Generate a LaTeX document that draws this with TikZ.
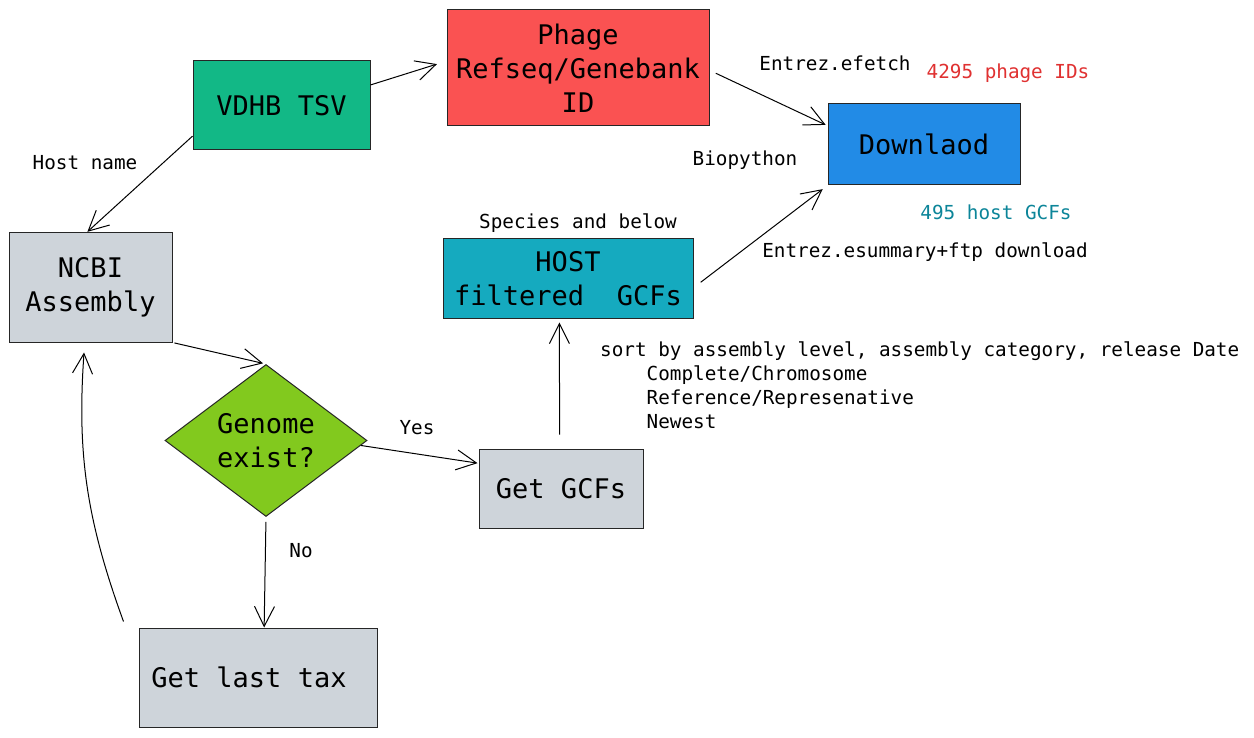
\documentclass[tikz,border=0pt]{standalone}
\usepackage{fontspec}
\setmainfont{DejaVu Sans Mono}
\usepackage{tikz}
\usetikzlibrary{arrows.meta,shapes.geometric}

\definecolor{tsvgreen}{HTML}{12B886}
\definecolor{phagered}{HTML}{FA5252}
\definecolor{dlblue}{HTML}{228BE6}
\definecolor{hostcyan}{HTML}{15AABF}
\definecolor{askgreen}{HTML}{82C91E}
\definecolor{stepgray}{HTML}{CED4DA}
\definecolor{notered}{HTML}{E03131}
\definecolor{noteteal}{HTML}{0C8599}

\tikzset{
  flowbox/.style={draw=black!85, line width=1pt, inner sep=0pt, align=center,
    font=\fontsize{27}{34}\selectfont},
  note/.style={inner sep=0pt, font=\fontsize{19.3}{24}\selectfont},
  flowarrow/.style={line width=1pt, -{Straight Barb[length=20pt,width=20pt]}},
}

\begin{document}
\begin{tikzpicture}[x=1pt,y=-1pt]
%set diagram left start at 0, and has height of 738
\path[fill=white,use as bounding box] (0,0) rectangle (1254,738);

%Shape: Rectangle [id:vdhb]
\node (vdhb) at (281.5,105.5) [flowbox, fill=tsvgreen, minimum width=177pt, minimum height=89pt] {VDHB TSV};
%Shape: Rectangle [id:phage]
\node (phage) at (578,68) [flowbox, fill=phagered, minimum width=262pt, minimum height=116pt] {Phage\\Refseq/Genebank\\ID};
%Shape: Rectangle [id:dl]
\node (dl) at (924,144.5) [flowbox, fill=dlblue, minimum width=192pt, minimum height=81pt] {Downlaod};
%Shape: Rectangle [id:ncbi]
\node (ncbi) at (90.5,287.5) [flowbox, fill=stepgray, minimum width=163pt, minimum height=109pt] {NCBI\\Assembly};
%Shape: Rectangle [id:host]
\node (host) at (568,279) [flowbox, fill=hostcyan, minimum width=250pt, minimum height=80pt] {HOST\\filtered\ \ GCFs};
%Shape: Diamond [id:genome]
\node (genome) at (266,440.5) [flowbox, diamond, fill=askgreen, minimum width=202pt, minimum height=149pt] {Genome\\exist?\hspace*{0pt}};
%Shape: Rectangle [id:getgcf]
\node (getgcf) at (561,488.5) [flowbox, fill=stepgray, minimum width=164pt, minimum height=79pt] {Get GCFs};
%Shape: Rectangle [id:lasttax]
\node (lasttax) at (258,677.5) [flowbox, fill=stepgray, minimum width=238pt, minimum height=99pt] {Get last tax\hspace*{18pt}};

%Straight Lines
\draw[flowarrow, shorten >=10pt] (vdhb.13.7) -- (phage.177.4);
\draw[flowarrow, shorten <=7pt, shorten >=2pt] (phage.-1) -- (dl.169.7);
\draw[flowarrow, shorten <=9pt, shorten >=6pt] (host.-4.1) -- (dl.south west);
\draw[flowarrow, shorten >=1pt] (vdhb.199.6) -- (ncbi.94.7);
\draw[flowarrow, shorten <=2pt, shorten >=3pt] (ncbi.south east) -- (genome.north);
\draw[flowarrow, shorten >=1pt] (genome.-3.6) -- (getgcf.163.4);
\draw[flowarrow, shorten <=5pt] (genome.south) -- (lasttax.83.1);
\draw[flowarrow, shorten <=14pt, shorten >=3pt] (getgcf.92.9) -- (host.258.7);
%Curve Lines
\draw[flowarrow, shorten >=10pt] ([shift={(-15pt,6pt)}]lasttax.north west) to[out=110, in=266] (ncbi.264.2);

% Text Node
\node (hostname) at (85,163) [note] {Host name};
% Text Node
\node (efetch) at (835,63) [note] {Entrez.efetch};
% Text Node
\node (phageids) at (1008,73) [note, text=notered] {4295 phage IDs};
% Text Node
\node (biopy) at (745,160) [note] {Biopython};
% Text Node
\node (hostgcfs) at (996,212) [note, text=noteteal] {495 host GCFs};
% Text Node
\node (esummary) at (925,252) [note] {Entrez.esummary+ftp download};
% Text Node
\node (species) at (578,223) [note] {Species and below};
% Text Node
\node (sortby) at (600,385) [note, anchor=west, align=left] {sort by assembly level, assembly category, release Date\\
\phantom{xxxx}Complete/Chromosome\\
\phantom{xxxx}Reference/Represenative\\
\phantom{xxxx}Newest};
% Text Node
\node (yes) at (417,428) [note] {Yes};
% Text Node
\node (no) at (301,551) [note] {No};
\end{tikzpicture}
\end{document}
